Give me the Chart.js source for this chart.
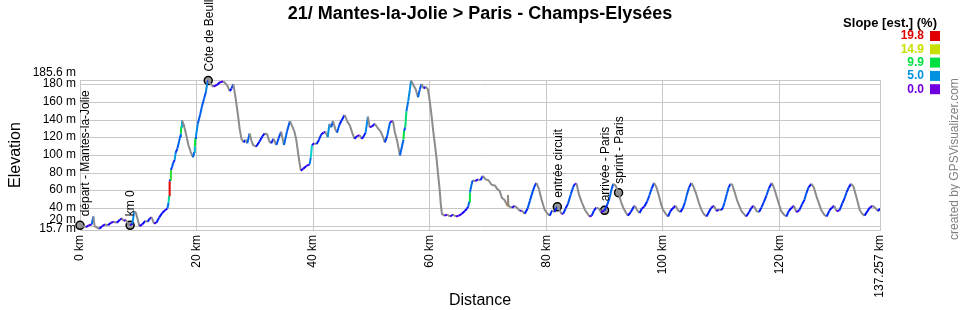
<!DOCTYPE html>
<html lang="fr">
<head>
    <meta charset="UTF-8">
    <title>21/ Mantes-la-Jolie > Paris - Champs-Elysées</title>
    <script src="https://cdn.jsdelivr.net/npm/chart.js@4.4.1/dist/chart.umd.min.js"></script>
    <style>
        body { margin: 0; background: #fff; }
        #profile { display: block; }
    </style>
</head>
<body>
    <canvas id="profile" width="960" height="310"></canvas>

    <script>
        // profile: distance (km) and elevation (m)
        const distKm = [
            0, 0.5, 1.0, 1.5, 2.0, 2.3, 2.5, 3.0, 3.3, 3.8, 4.3, 4.8, 5.3, 5.8, 6.3, 6.8, 7.2, 7.5, 7.9, 8.3,
            8.6, 9.0, 9.3, 9.6, 10.2, 10.7, 11.2, 11.6, 12.0, 12.3, 12.7, 13.1, 13.6, 14.1, 14.6, 15.0, 15.2, 15.3, 15.38, 15.5,
            15.6, 15.75, 16.0, 16.25, 16.4, 16.7, 16.9, 17.2, 17.3, 17.38, 17.5, 17.8, 18.2, 18.6, 19.0, 19.4, 19.6, 19.7, 19.8, 19.9,
            20.2, 20.6, 20.9, 21.3, 21.6, 21.85, 22.0, 22.4, 22.9, 23.5, 24.0, 24.6, 25.2, 25.7, 26.0, 26.3, 26.7, 27.1, 27.4, 27.7,
            28.1, 28.4, 28.7, 29.1, 29.4, 29.7, 30.2, 30.8, 31.3, 31.7, 32.1, 32.5, 32.8, 33.2, 33.7, 34.1, 34.5, 35.0, 35.5, 36.0,
            36.5, 36.8, 37.1, 37.4, 37.7, 37.9, 38.3, 38.8, 39.4, 39.6, 39.8, 40.2, 40.6, 41.0, 41.4, 41.8, 42.1, 42.5, 42.8, 43.1,
            43.4, 43.8, 44.1, 44.5, 44.9, 45.4, 45.9, 46.3, 46.7, 47.1, 47.5, 48.0, 48.3, 48.6, 49.0, 49.4, 49.7, 50.1, 50.6, 51.1,
            51.6, 52.0, 52.3, 52.7, 53.2, 53.7, 54.0, 54.4, 54.9, 55.4, 55.5, 55.6, 55.8, 56.0, 56.3, 56.6, 56.8, 57.2, 57.6, 58.0,
            58.3, 58.6, 59.0, 59.3, 59.7, 60.0, 60.3, 60.6, 60.9, 61.2, 61.4, 61.7, 61.9, 62.1, 62.5, 63.0, 63.5, 64.0, 64.5, 65.0,
            65.5, 66.0, 66.4, 66.6, 66.8, 66.9, 67.2, 67.4, 67.8, 68.3, 68.7, 69.1, 69.6, 70.1, 70.6, 71.2, 71.6, 72.0, 72.4, 72.8,
            73.2, 73.35, 73.42, 73.5, 73.7, 74.1, 74.6, 75.1, 75.5, 75.8, 76.3, 76.8, 77.2, 77.7, 78.1, 78.3, 78.7, 79.2, 79.7, 80.2,
            80.6, 81.0, 81.4, 81.9, 82.3, 82.6, 82.9, 83.3, 83.7, 84.2, 84.6, 84.9, 85.2, 85.6, 86.1, 86.6, 87.0, 87.4, 87.8, 88.2,
            88.6, 89.0, 89.4, 90.0, 90.5, 90.9, 91.2, 91.5, 91.9, 92.4, 92.8, 93.2, 93.6, 94.0, 94.5, 95.0, 95.2, 95.6, 96.0, 96.4,
            96.8, 97.3, 97.7, 98.1, 98.5, 98.9, 99.3, 99.7, 100.0, 100.5, 100.9, 101.3, 101.8, 102.2, 102.6, 103.0, 103.4, 103.8, 104.1, 104.5,
            104.9, 105.3, 105.7, 106.2, 106.6, 107.0, 107.5, 107.9, 108.3, 108.8, 109.2, 109.6, 110.0, 110.3, 110.6, 111.0, 111.3, 111.6, 111.9, 112.3,
            112.8, 113.5, 113.9, 114.3, 114.8, 115.2, 115.6, 116.1, 116.5, 116.9, 117.3, 117.8, 118.2, 118.7, 119.1, 119.6, 120.3, 120.8, 121.2, 121.6,
            122.1, 122.5, 122.9, 123.4, 123.9, 124.3, 124.6, 125.0, 125.5, 125.9, 126.4, 127.2, 127.7, 128.1, 128.6, 129.0, 129.4, 129.8, 130.3, 130.8,
            131.2, 131.5, 131.9, 132.3, 132.7, 133.2, 133.8, 134.2, 134.6, 135.1, 135.5, 136.0, 136.4, 136.9, 137.257
        ];
        const elevM = [
            21, 20, 19, 21, 22, 31, 20, 18, 17, 20, 22, 21, 24, 25, 24, 27, 29, 26, 27, 22,
            21, 23, 37, 35, 20, 22, 26, 25, 29, 30, 23, 24, 30, 35, 38, 40, 47, 55, 71, 73,
            84, 86, 92, 95, 103, 108, 113, 122, 125, 133, 140, 135, 124, 112, 104, 98, 104, 110, 120, 122,
            136, 146, 155, 165, 172, 183, 185, 181, 178, 180, 183, 184, 180, 173, 176, 181, 165, 146, 130, 119,
            115, 118, 114, 125, 117, 112, 110, 116, 122, 125, 124, 116, 114, 119, 112, 120, 127, 112, 127, 139,
            132, 127, 118, 104, 90, 83, 85, 88, 90, 98, 112, 114, 113, 118, 124, 126, 127, 121, 136, 132,
            139, 130, 126, 135, 140, 146, 138, 134, 126, 119, 122, 123, 119, 121, 126, 144, 132, 133, 136, 131,
            127, 121, 115, 122, 138, 139, 127, 117, 100, 115, 118, 128, 132, 150, 161, 175, 185, 180, 175, 166,
            175, 181, 176, 178, 175, 162, 146, 128, 112, 95, 81, 62, 45, 34, 32, 33, 31, 33, 31, 32,
            34, 37, 40, 42, 48, 58, 68, 72, 71, 73, 72, 77, 73, 72, 67, 66, 62, 60, 52, 50,
            45, 43, 55, 44, 42, 41, 43, 40, 37, 38, 34, 40, 49, 60, 67, 69, 63, 50, 39, 34,
            32, 38, 36, 42, 38, 34, 34, 40, 45, 56, 64, 68, 68, 56, 47, 39, 35, 31, 32, 38,
            41, 40, 36, 38, 45, 53, 62, 68, 66, 58, 48, 41, 36, 32, 36, 42, 43, 38, 35, 40,
            42, 48, 55, 63, 69, 64, 55, 45, 39, 34, 31, 37, 41, 43, 38, 36, 40, 47, 55, 64,
            69, 64, 57, 46, 39, 34, 31, 36, 41, 43, 37, 39, 38, 41, 47, 57, 64, 68, 67, 59,
            48, 37, 34, 31, 36, 41, 43, 37, 36, 41, 47, 55, 63, 69, 63, 52, 37, 33, 31, 37,
            41, 43, 36, 38, 45, 50, 57, 64, 68, 64, 53, 38, 33, 31, 38, 41, 43, 37, 38, 46,
            52, 58, 64, 68, 65, 53, 38, 34, 32, 37, 41, 43, 41, 37, 40
        ];

        // waypoints
        const wpNames = ['départ - Mantes-la-Jolie', 'km 0', 'Côte de Beulle', 'entrée circuit', 'arrivée - Paris', 'sprint - Paris'];
        const wpKm = [0, 8.6, 22.0, 81.9, 90.0, 92.4];
        const wpElev = [21, 21, 185, 42, 38, 58];

        // axes
        const xTicks = [0, 20, 40, 60, 80, 100, 120, 137.257];
        const yTicks = [15.7, 20, 40, 60, 80, 100, 120, 140, 160, 180, 185.6];
        const slopeLegend = [19.8, 14.9, 9.9, 5.0, 0.0];

        const FONT = "'Liberation Sans', Arial, sans-serif";
        const GRID = '#c8c8c8';

        // slope (%) -> colour, through the legend colours
        const colorStops = [
            [0, [112, 0, 224]], [0.7, [0, 0, 255]], [2, [0, 80, 240]], [5, [0, 144, 224]], [7, [0, 208, 208]],
            [9.9, [0, 224, 64]], [14.9, [200, 224, 0]], [19.8, [224, 0, 0]]
        ];
        function slopeColor(s) {
            if (s < 0) return '#8c8c8c';
            s = Math.min(s, 19.8);
            for (let i = 1; i < colorStops.length; i++) {
                const [s0, c0] = colorStops[i - 1], [s1, c1] = colorStops[i];
                if (s <= s1) {
                    const t = (s - s0) / (s1 - s0);
                    const c = c0.map((v, k) => Math.round(v + (c1[k] - v) * t));
                    return 'rgb(' + c.join(',') + ')';
                }
            }
            return 'rgb(224,0,0)';
        }

        const decorations = {
            id: 'decorations',
            afterDraw(chart) {
                const c = chart.ctx;
                const xs = chart.scales.x, ys = chart.scales.y;
                c.save();
                c.fillStyle = '#000';

                // title
                c.font = 'bold 18px ' + FONT;
                c.textAlign = 'center';
                c.textBaseline = 'middle';
                c.fillText('21/ Mantes-la-Jolie > Paris - Champs-Elysées', 480, 14);

                // axis titles
                c.font = '16px ' + FONT;
                c.fillText('Distance', 480, 301);
                c.save();
                c.translate(16, 155);
                c.rotate(-Math.PI / 2);
                c.fillText('Elevation', 0, 0);
                c.restore();

                // y labels (top and 20 m nudged up like the original)
                c.font = '12px ' + FONT;
                c.textAlign = 'right';
                yTicks.forEach(v => {
                    let dy = -1;
                    if (v === 185.6 || v === 20) dy = -7;
                    c.fillText(v + ' m', 76, ys.getPixelForValue(v) + dy);
                });

                // slope legend
                c.font = 'bold 13px ' + FONT;
                c.fillText('Slope [est.] (%)', 937, 23);
                c.font = 'bold 12px ' + FONT;
                slopeLegend.forEach((s, i) => {
                    const y = 36 + i * 13.3;
                    c.fillStyle = slopeColor(s);
                    c.fillText(s.toFixed(1), 924, y);
                    c.fillRect(930, y - 5, 10, 10);
                });

                // credit
                c.fillStyle = '#808080';
                c.font = '12px ' + FONT;
                c.save();
                c.translate(955, 240);
                c.rotate(-Math.PI / 2);
                c.textAlign = 'left';
                c.fillText('created by GPSVisualizer.com', 0, 0);
                c.restore();

                // waypoint labels
                c.fillStyle = '#000';
                c.textAlign = 'left';
                wpNames.forEach((name, i) => {
                    let px = xs.getPixelForValue(wpKm[i]);
                    const py = ys.getPixelForValue(wpElev[i]);
                    if (i === 0) px += 5;
                    c.save();
                    c.translate(px + 1, py - 9);
                    c.rotate(-Math.PI / 2);
                    c.fillText(name, 0, 0);
                    c.restore();
                });
                c.restore();
            }
        };

        new Chart(document.getElementById('profile'), {
            type: 'line',
            data: {
                datasets: [{
                    data: distKm.map((d, i) => ({ x: d, y: elevM[i] })),
                    borderWidth: 2,
                    pointRadius: 0,
                    tension: 0,
                    segment: {
                        borderColor: ctx => slopeColor((ctx.p1.parsed.y - ctx.p0.parsed.y) / ((ctx.p1.parsed.x - ctx.p0.parsed.x) * 10))
                    }
                }, {
                    type: 'scatter',
                    data: wpKm.map((d, i) => ({ x: d, y: wpElev[i] })),
                    pointRadius: 4,
                    pointBackgroundColor: '#999',
                    pointBorderColor: '#000',
                    pointBorderWidth: 1.5,
                    showLine: false,
                    clip: false
                }]
            },
            options: {
                responsive: false,
                animation: false,
                events: [],
                layout: { padding: { left: 0, top: 80, right: 80, bottom: 0 } },
                plugins: { legend: { display: false }, tooltip: { enabled: false } },
                scales: {
                    x: {
                        type: 'linear',
                        min: 0,
                        max: 137.257,
                        afterBuildTicks: s => { s.ticks = xTicks.map(v => ({ value: v })); },
                        afterFit: s => { s.height = 80; },
                        grid: { color: GRID, drawTicks: false },
                        border: { color: GRID },
                        ticks: {
                            autoSkip: false,
                            minRotation: 90,
                            maxRotation: 90,
                            padding: 5,
                            color: '#000',
                            font: { family: FONT, size: 12 },
                            callback: v => v + ' km'
                        }
                    },
                    y: {
                        min: 15.7,
                        max: 185.6,
                        afterBuildTicks: s => { s.ticks = yTicks.map(v => ({ value: v })); },
                        afterFit: s => { s.width = 80; },
                        grid: { color: GRID, drawTicks: false },
                        border: { color: GRID },
                        ticks: { display: false }
                    }
                }
            },
            plugins: [decorations]
        });
    </script>
</body>
</html>
